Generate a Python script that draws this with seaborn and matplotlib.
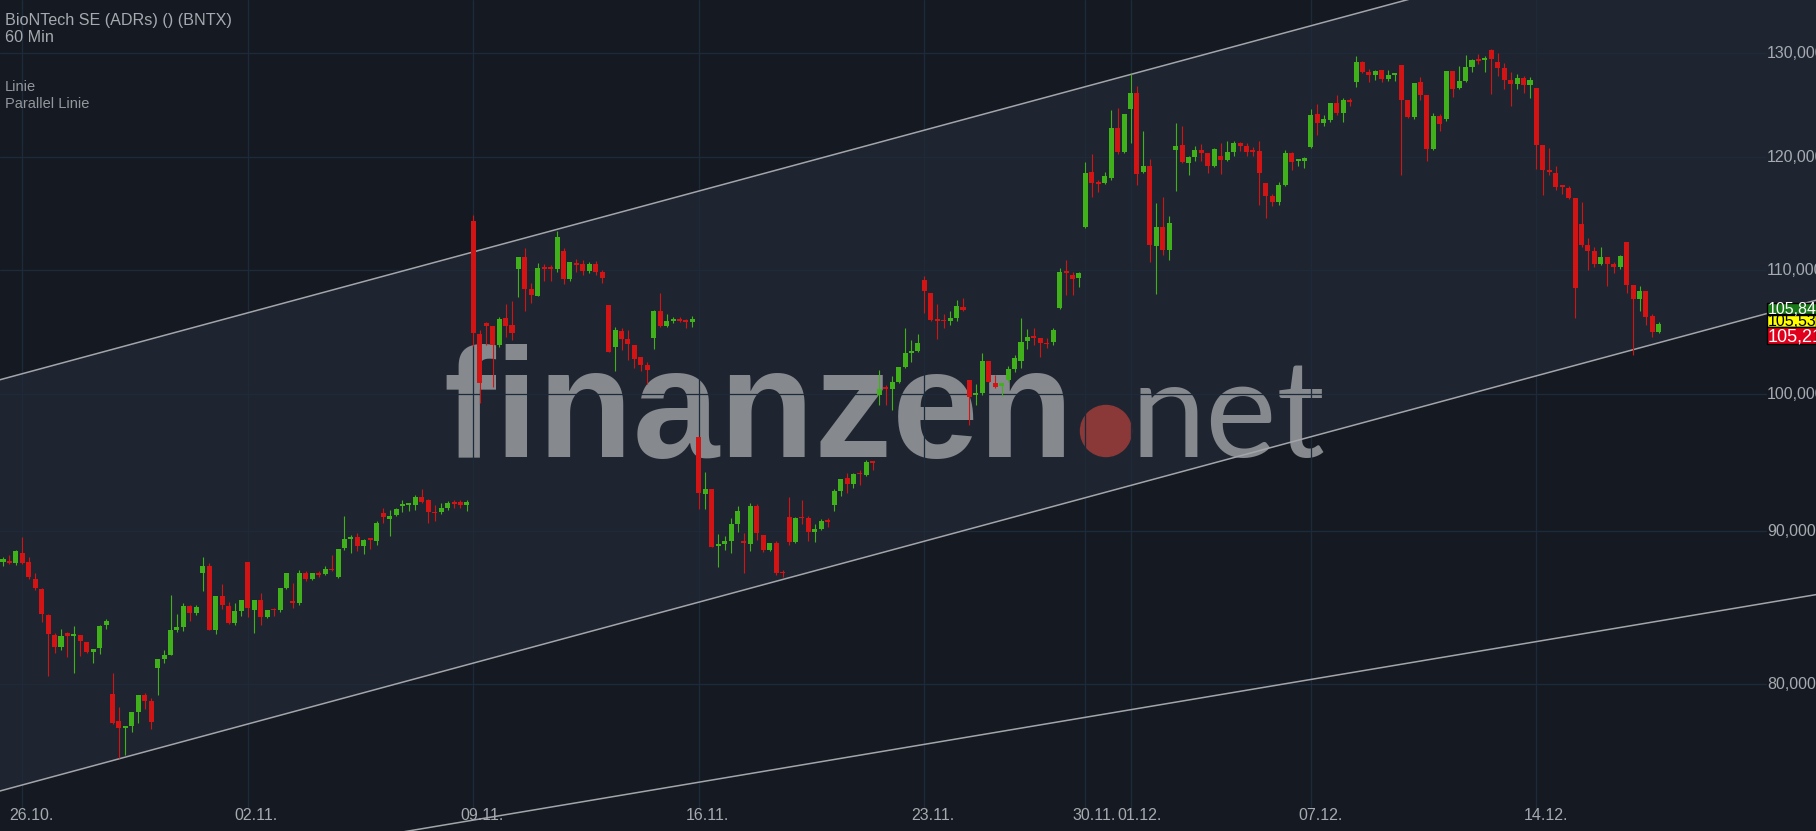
import numpy as np
import pandas as pd
import matplotlib
matplotlib.use("Agg")
import matplotlib.pyplot as plt
import matplotlib.transforms as mtransforms
from matplotlib.patches import Ellipse, Rectangle
from matplotlib.ticker import NullLocator
import seaborn as sns

# BNTX 60 Min candles, 23.10. (last 3 hours) to 16.12.2020, one value per candle
opens = [87.89, 88.00, 87.82, 88.54, 87.87, 86.79, 86.12, 84.40, 83.13, 82.33,
         83.20, 83.03, 83.13, 82.63, 82.01, 82.26, 83.72, 79.43, 77.76, 77.36,
         77.46, 78.30, 79.37, 79.01, 81.04, 81.61, 81.86, 83.45, 83.58, 84.97,
         84.53, 87.19, 87.60, 83.41, 85.65, 84.97, 83.90, 84.66, 87.93, 84.74,
         85.39, 84.23, 84.77, 84.68, 86.18, 85.33, 85.19, 87.19, 86.74, 87.11,
         87.08, 87.39, 86.92, 88.83, 89.48, 89.62, 89.01, 89.48, 89.35, 91.30,
         90.88, 91.16, 91.78, 91.85, 91.82, 92.44, 92.16, 91.32, 91.32, 91.66,
         91.99, 92.04, 91.82, 114.27, 104.76, 105.63, 105.43, 103.89, 106.07, 105.49,
         110.12, 111.16, 108.41, 107.86, 110.25, 110.25, 110.12, 111.68, 109.29, 110.64,
         110.55, 109.97, 110.55, 109.87, 107.14, 103.67, 104.99, 104.36, 103.83, 102.89,
         102.25, 104.46, 106.65, 105.43, 105.82, 105.87, 105.85, 105.68, 96.75, 92.60,
         92.94, 89.01, 89.10, 89.30, 90.54, 89.35, 89.10, 91.80, 89.75, 88.69,
         89.21, 87.17, 91.02, 89.23, 90.95, 90.95, 89.97, 90.19, 90.71, 91.82,
         92.82, 93.79, 93.31, 94.08, 94.00, 94.91, 99.95, 100.55, 100.44, 100.97,
         102.15, 103.20, 103.41, 109.21, 108.13, 105.85, 105.82, 105.82, 106.07, 106.98,
         101.13, 99.97, 100.08, 102.63, 100.89, 100.65, 101.13, 102.00, 102.60, 104.15,
         104.52, 104.44, 103.97, 104.07, 106.84, 109.87, 109.62, 109.37, 113.75, 118.67,
         117.68, 117.68, 118.13, 122.76, 120.50, 124.55, 126.10, 118.67, 119.21, 112.11,
         113.75, 111.76, 120.69, 121.16, 119.48, 120.03, 120.69, 120.40, 119.21, 120.12,
         119.76, 120.50, 121.35, 121.06, 120.59, 120.59, 117.68, 116.50, 115.96, 117.50,
         120.40, 119.66, 119.67, 120.97, 124.08, 123.23, 123.51, 125.12, 124.17, 125.32,
         127.18, 129.15, 128.16, 127.87, 128.36, 127.48, 127.87, 128.85, 125.41, 123.79,
         127.18, 125.90, 120.78, 123.89, 123.61, 128.26, 126.59, 127.28, 128.65, 129.34,
         129.34, 130.34, 129.15, 128.56, 127.38, 126.98, 127.57, 126.89, 126.59, 121.16,
         118.76, 118.58, 117.41, 117.23, 116.32, 114.01, 112.20, 111.68, 110.55, 111.16,
         110.55, 110.29, 112.46, 108.79, 107.63, 108.30, 106.24, 104.91]
highs = [88.25, 88.38, 88.74, 89.62, 88.27, 87.17, 86.18, 84.47, 83.24, 83.51,
         83.30, 83.70, 83.13, 82.67, 82.24, 83.72, 84.15, 80.68, 78.65, 77.50,
         78.30, 79.37, 79.45, 79.17, 81.55, 82.12, 85.71, 84.47, 85.15, 85.02,
         85.04, 88.27, 87.80, 85.65, 86.45, 85.26, 85.15, 85.39, 87.93, 85.39,
         85.85, 84.72, 84.85, 86.18, 87.13, 86.52, 87.33, 87.28, 87.17, 87.26,
         87.66, 88.34, 88.81, 91.09, 89.75, 89.89, 89.48, 89.55, 90.73, 91.66,
         91.52, 91.66, 92.16, 92.01, 92.58, 93.01, 92.23, 91.87, 92.01, 92.09,
         92.16, 92.16, 92.16, 114.79, 105.08, 105.71, 105.43, 106.09, 107.20, 107.47,
         111.16, 111.91, 108.96, 110.64, 110.53, 110.47, 113.41, 111.91, 110.73, 110.93,
         110.88, 110.73, 110.81, 110.03, 107.14, 105.32, 105.24, 105.08, 103.83, 102.89,
         102.49, 106.73, 108.13, 106.40, 106.09, 106.09, 105.99, 106.24, 96.75, 94.22,
         92.94, 89.82, 89.68, 90.93, 91.80, 89.87, 92.01, 91.89, 89.75, 89.21,
         89.35, 87.33, 92.37, 91.00, 92.16, 91.09, 90.52, 90.85, 90.93, 92.94,
         93.72, 94.15, 94.15, 94.36, 95.08, 94.91, 101.92, 100.73, 101.44, 102.15,
         105.24, 104.28, 104.76, 109.54, 108.13, 107.22, 106.40, 106.65, 107.56, 107.66,
         101.13, 100.81, 103.26, 102.63, 101.52, 100.89, 102.24, 103.10, 106.07, 105.15,
         105.23, 104.44, 104.44, 105.24, 110.20, 110.90, 109.87, 109.87, 119.58, 120.31,
         117.95, 118.67, 124.45, 124.64, 124.08, 127.97, 126.79, 122.48, 119.85, 115.87,
         116.41, 114.71, 123.23, 122.95, 120.12, 121.06, 121.25, 120.40, 120.88, 121.35,
         121.53, 121.53, 121.44, 121.35, 120.97, 121.53, 117.68, 116.68, 117.77, 120.69,
         120.50, 119.85, 120.03, 124.55, 125.02, 123.98, 125.12, 125.90, 125.61, 125.61,
         129.73, 129.24, 128.46, 128.36, 128.36, 128.36, 128.07, 128.85, 125.41, 127.08,
         127.67, 125.90, 124.17, 124.08, 128.26, 128.26, 128.75, 129.83, 129.44, 129.93,
         129.73, 130.44, 130.03, 129.05, 128.16, 127.97, 127.77, 127.67, 126.59, 121.16,
         120.87, 119.21, 117.50, 117.41, 116.32, 115.96, 112.80, 112.03, 112.03, 111.16,
         110.73, 111.33, 112.46, 108.79, 108.71, 108.30, 106.40, 105.73]
lows = [87.62, 87.73, 87.68, 87.75, 86.79, 86.00, 83.91, 80.55, 81.95, 82.14,
        81.69, 80.68, 81.76, 81.95, 81.31, 81.88, 83.47, 77.58, 75.60, 75.79,
        77.12, 77.66, 78.53, 77.30, 79.33, 81.31, 81.80, 83.28, 83.36, 83.98,
        84.36, 85.94, 83.40, 83.15, 84.80, 83.83, 83.72, 84.30, 84.28, 83.22,
        83.72, 84.17, 84.30, 84.61, 86.12, 84.87, 85.06, 86.61, 86.68, 86.88,
        87.01, 87.28, 86.81, 88.69, 88.49, 88.63, 88.43, 88.76, 89.03, 90.61,
        89.70, 91.04, 91.34, 91.42, 91.47, 91.99, 90.59, 90.68, 91.23, 91.47,
        91.64, 91.64, 91.40, 103.81, 99.37, 103.89, 100.60, 103.67, 104.54, 104.28,
        107.75, 106.60, 107.30, 107.83, 109.12, 109.12, 109.89, 108.88, 109.12, 109.89,
        109.62, 109.79, 109.62, 108.90, 103.28, 101.78, 103.44, 102.68, 102.02, 101.78,
        100.76, 103.52, 105.35, 105.35, 105.60, 105.68, 105.27, 105.35, 91.54, 91.59,
        88.94, 87.55, 88.69, 88.49, 89.97, 87.15, 88.63, 89.41, 88.59, 88.63,
        87.01, 86.88, 89.06, 89.17, 90.52, 89.30, 89.23, 90.09, 90.33, 91.40,
        92.46, 92.68, 93.03, 93.24, 93.88, 94.31, 99.20, 99.20, 98.77, 100.84,
        102.08, 102.51, 103.34, 106.49, 105.84, 104.31, 105.27, 105.49, 105.82, 106.65,
        97.70, 99.20, 99.95, 100.92, 100.50, 99.87, 100.97, 101.76, 102.08, 103.58,
        103.83, 102.89, 103.65, 103.89, 106.76, 107.97, 107.97, 108.63, 113.66, 116.41,
        116.86, 117.59, 117.95, 120.31, 120.40, 121.35, 117.50, 118.58, 110.73, 108.05,
        111.33, 110.90, 116.95, 119.48, 118.40, 119.67, 119.67, 118.58, 119.12, 118.49,
        119.67, 120.12, 120.59, 120.12, 120.12, 115.71, 114.53, 115.61, 115.70, 117.41,
        118.85, 119.21, 119.03, 120.87, 122.10, 122.95, 123.32, 123.98, 123.32, 124.83,
        126.69, 128.07, 127.18, 127.38, 127.18, 127.28, 127.28, 118.40, 123.70, 123.61,
        125.41, 119.67, 120.69, 122.48, 123.42, 125.71, 126.49, 127.18, 128.16, 128.95,
        128.16, 126.00, 127.77, 126.49, 124.83, 126.49, 126.10, 125.61, 118.94, 116.59,
        118.40, 117.05, 116.68, 116.22, 106.07, 112.03, 110.03, 110.29, 110.47, 108.71,
        109.79, 110.12, 108.13, 103.10, 106.65, 105.49, 104.52, 104.83]
closes = [88.07, 87.82, 88.67, 87.82, 86.88, 86.14, 84.42, 83.15, 82.33, 83.01,
          83.03, 83.07, 82.71, 82.01, 82.24, 83.66, 84.02, 77.66, 77.34, 77.46,
          78.30, 79.37, 79.01, 77.70, 81.55, 81.80, 83.45, 83.58, 84.97, 84.53,
          84.91, 87.66, 83.45, 85.65, 85.06, 83.90, 84.66, 85.39, 84.87, 85.39,
          84.23, 84.72, 84.70, 86.18, 87.13, 85.14, 87.19, 86.74, 87.13, 87.04,
          87.46, 87.33, 88.81, 89.48, 89.62, 88.96, 89.41, 89.41, 90.59, 90.97,
          91.09, 91.59, 91.82, 91.92, 92.44, 92.04, 91.32, 91.25, 91.66, 91.96,
          91.94, 91.82, 92.04, 104.86, 100.91, 105.43, 103.89, 105.99, 105.43, 104.86,
          111.16, 108.41, 107.91, 110.21, 110.15, 110.12, 112.89, 109.29, 110.73, 110.47,
          109.97, 110.55, 109.89, 109.40, 103.34, 105.08, 104.38, 103.91, 102.73, 102.25,
          101.92, 106.65, 105.43, 105.82, 105.87, 105.80, 105.68, 105.99, 92.68, 92.94,
          88.94, 89.04, 89.35, 90.52, 91.44, 89.19, 91.80, 89.91, 88.69, 89.17,
          87.19, 87.13, 89.23, 90.95, 90.90, 89.97, 90.16, 90.73, 90.66, 92.80,
          93.72, 93.31, 94.08, 94.03, 94.93, 94.86, 100.39, 100.44, 100.97, 102.15,
          103.26, 103.41, 104.05, 108.24, 105.92, 105.80, 105.77, 106.07, 107.06, 106.73,
          99.82, 100.02, 102.63, 100.92, 100.58, 100.89, 102.00, 102.87, 104.12, 104.52,
          104.44, 103.99, 103.91, 105.08, 109.87, 109.81, 109.29, 109.79, 118.58, 117.68,
          117.59, 118.31, 122.76, 120.50, 124.08, 126.10, 118.49, 119.21, 112.20, 113.75,
          111.76, 114.10, 121.06, 119.58, 120.03, 120.69, 120.40, 119.21, 120.78, 119.76,
          120.50, 121.35, 121.06, 120.50, 120.53, 118.58, 116.50, 115.96, 117.50, 120.40,
          119.58, 119.69, 119.94, 123.98, 123.23, 123.61, 125.12, 124.17, 125.41, 125.25,
          129.15, 128.16, 127.87, 128.26, 127.48, 127.87, 128.07, 125.41, 123.79, 127.08,
          125.90, 120.78, 123.89, 123.13, 128.26, 126.49, 127.28, 128.65, 129.34, 129.24,
          129.54, 129.44, 128.56, 127.38, 126.98, 127.57, 126.89, 127.38, 121.16, 118.85,
          118.67, 117.32, 117.32, 116.32, 108.51, 112.20, 111.68, 110.55, 111.16, 110.55,
          110.29, 111.25, 108.79, 107.63, 108.30, 106.15, 104.91, 105.57]

# x axis: candle index of the first hour of each labelled day
day_starts = [3, 38, 73, 108, 143, 168, 175, 203, 238]
day_labels = ["26.10.", "02.11.", "09.11.", "16.11.", "23.11.",
              "30.11.", "01.12.", "07.12.", "14.12."]
price_ticks = [80, 90, 100, 110, 120, 130]

# drawn lines: (candle index, price) anchors
upper_line = ([0, 200], [101.19, 132.24])
lower_line = ([0, 200], [73.75, 96.40])
parallel_line = ([100, 250], [73.71, 83.51])

# last price tags on the right edge
tag_texts = ["105,84", "105,53", "105,21"]

W, H = 1816, 831
BG = "#151a22"
CHANNEL = "#1f2530"
GRID = "#1d2a3a"
TXT = "#a6aab0"
GREEN = "#41b11b"
RED = "#d21414"

sns.set_theme(style="dark", rc={"axes.facecolor": BG, "figure.facecolor": BG})
plt.rcParams["font.family"] = ["Liberation Sans", "DejaVu Sans"]

df = pd.DataFrame({"open": opens, "high": highs, "low": lows, "close": closes})
df["idx"] = np.arange(len(df))
up = df["close"] >= df["open"]
colors = np.where(up, GREEN, RED)

fig = plt.figure(figsize=(W / 100, H / 100), dpi=100)
ax = fig.add_axes([0, 0, 1, 1])
ax.set_yscale("log")
ax.set_ylim(71.47, 135.43)
ax.set_xlim(-0.466, 281.39)
ax.yaxis.set_minor_locator(NullLocator())
ax.tick_params(left=False, bottom=False, labelleft=False, labelbottom=False)
for s in ax.spines.values():
    s.set_visible(False)


def fx(px):
    return px / W


def fy(py):
    return 1 - py / H


def line_through(anchor, xs):
    (i0, i1), (p0, p1) = anchor
    k = (np.log(p1) - np.log(p0)) / (i1 - i0)
    return np.exp(np.log(p0) + k * (np.asarray(xs, dtype=float) - i0))


xs = np.array([-3.0, 290.0])
ax.fill_between(xs, line_through(lower_line, xs), line_through(upper_line, xs),
                color=CHANNEL, lw=0, zorder=0.5)

# watermark
ax.text(fx(443), fy(457), "finanzen", transform=ax.transAxes, fontsize=112,
        fontweight="bold", color="#86898e", ha="left", va="baseline", zorder=0.8)
ax.add_patch(Ellipse((fx(1106), fy(431)), 51 / W, 51 / H, transform=ax.transAxes,
                     color="#8a3838", zorder=0.8))
ax.text(fx(1131), fy(457), "net", transform=ax.transAxes, fontsize=97,
        family="Lato", fontweight="normal", color="#86898e", ha="left",
        va="baseline", zorder=0.8)

# grid
for v in price_ticks:
    ax.axhline(v, xmax=1766 / W, color=GRID, lw=0.9, zorder=1)
for d in day_starts:
    ax.axvline(d, ymin=23 / H, color=GRID, lw=0.9, zorder=1)

# channel lines
for anchor in (upper_line, lower_line, parallel_line):
    sns.lineplot(x=xs, y=line_through(anchor, xs), ax=ax, color="#a3a5aa",
                 lw=1.1, zorder=2, legend=False)

# candles
ax.vlines(df["idx"], df["low"], df["high"], colors=colors, lw=0.8, zorder=3)
body_lo = np.minimum(df["open"], df["close"])
body_h = np.maximum((df["close"] - df["open"]).abs(), df["open"] * 0.0013)
ax.bar(df["idx"], body_h, bottom=body_lo, width=0.78, color=colors, lw=0, zorder=4)

# y labels inside on the right (cut by the right edge as in the source chart)
ytrans = mtransforms.blended_transform_factory(ax.transAxes, ax.transData)
for v in price_ticks:
    ax.text(fx(1767), v, f"{v:.3f}".replace(".", ","), transform=ytrans,
            fontsize=11.5, color=TXT, ha="left", va="center", zorder=5)

# x labels
xtrans = mtransforms.blended_transform_factory(ax.transData, ax.transAxes)
for d, lab in zip(day_starts, day_labels):
    ax.text(d - 13 / 6.443, fy(815), lab, transform=xtrans, fontsize=11.5,
            color=TXT, ha="left", va="center", zorder=5)

# header texts
ax.text(fx(5), fy(20), "BioNTech SE (ADRs) () (BNTX)", transform=ax.transAxes,
        fontsize=11.6, color=TXT, ha="left", va="center")
ax.text(fx(5), fy(37), "60 Min", transform=ax.transAxes,
        fontsize=11.6, color=TXT, ha="left", va="center")
ax.text(fx(5), fy(87), "Linie", transform=ax.transAxes,
        fontsize=10.5, color="#92979d", ha="left", va="center")
ax.text(fx(5), fy(104), "Parallel Linie", transform=ax.transAxes,
        fontsize=10.5, color="#92979d", ha="left", va="center")

# price tags
tag_boxes = [(302.7, 314.3, "#187818", "white", 11.5, 309.5),
             (315.0, 326.7, "#ffff00", "black", 11.5, 321.5),
             (327.3, 344.3, "#e0001b", "white", 13, 336.5)]
for (top, bot, fc, tc, fs, ty), txt in zip(tag_boxes, tag_texts):
    ax.add_patch(Rectangle((fx(1766.5), fy(bot)), (W - 1766.5) / W, (bot - top) / H,
                           transform=ax.transAxes, facecolor=fc, edgecolor="black",
                           lw=1, zorder=6, clip_on=False))
    ax.text(fx(1768), fy(ty), txt, transform=ax.transAxes, fontsize=fs,
            color=tc, ha="left", va="center", zorder=7)

fig.savefig("out.png", dpi=100, facecolor=BG)
